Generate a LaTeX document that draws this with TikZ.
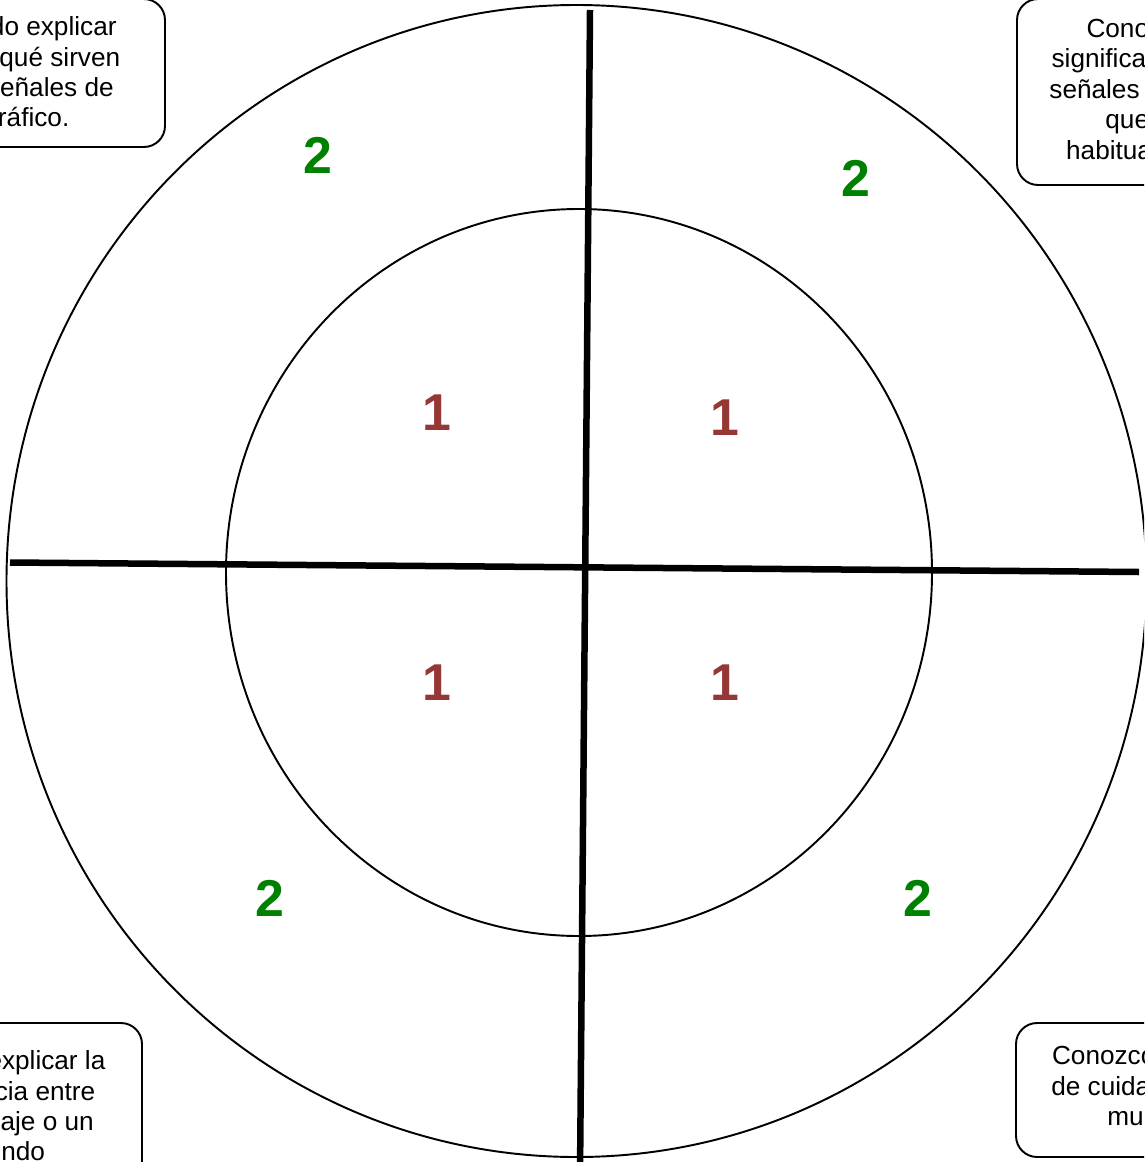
\documentclass[tikz,border=0pt]{standalone}
\usepackage{fontspec}
\setmainfont{Liberation Sans}
\definecolor{numgreen}{HTML}{008000}
\definecolor{numred}{HTML}{953735}
\begin{document}
\begin{tikzpicture}[x=0.02cm,y=-0.02cm,
  ring/.style={draw=black,line width=1.1pt},
  axis/.style={draw=black,line width=3.7pt},
  notebox/.style={draw=black,line width=1.1pt,rounded corners=12pt},
  notetext/.style={align=center,inner sep=0pt,font=\fontsize{14.9}{17.3}\selectfont},
  two/.style={text=numgreen,font=\fontsize{29.5}{34}\selectfont\bfseries,inner sep=0pt},
  one/.style={text=numred,font=\fontsize{29.5}{34}\selectfont\bfseries,inner sep=0pt}]
\useasboundingbox (0,0) rectangle (1144,1162);
\clip (0,0) rectangle (1144,1162);
% circles
\draw[ring] (576.5,581) ellipse [x radius=570, y radius=576];
\draw[ring] (579,572.5) ellipse [x radius=353, y radius=363.5];
% axes
\coordinate (vtop) at (590,10);
\coordinate (vbot) at (580,1175);
\coordinate (hleft) at (10,562.5);
\coordinate (hright) at (1139,572);
\draw[axis] (vtop) -- (vbot);
\draw[axis] (hleft) -- (hright);
% numbers
\node[two] (n2a) at (318,155) {2};
\node[two] (n2b) at (856,178) {2};
\node[two] (n2c) at (270,898) {2};
\node[two] (n2d) at (918,898) {2};
\node[one] (n1a) at (437,413) {1};
\node[one] (n1b) at (725,418) {1};
\node[one] (n1c) at (437,683) {1};
\node[one] (n1d) at (725,683) {1};
% note boxes
\draw[notebox] (-107,-1) rectangle (165,147);
\node[notetext] (tl) at (30,72) {Puedo explicar\\para qué sirven\\las señales de\\tráfico.};
\draw[notebox] (1017,-1) rectangle (1289,185);
\node[notetext] (tr) at (1152,89) {Conozco el\\significado de las\\señales de tráfico\\que veo\\habitualmente.};
\draw[notebox] (-130,1023) rectangle (142,1210);
\node[notetext] (bl) at (5,1106) {Puedo explicar la\\diferencia entre\\un paisaje o un\\mundo};
\draw[notebox] (1016,1023) rectangle (1288,1157);
\node[notetext] (br) at (1151,1086) {Conozco normas\\de cuidado de mi\\mundo.};
\end{tikzpicture}
\end{document}
